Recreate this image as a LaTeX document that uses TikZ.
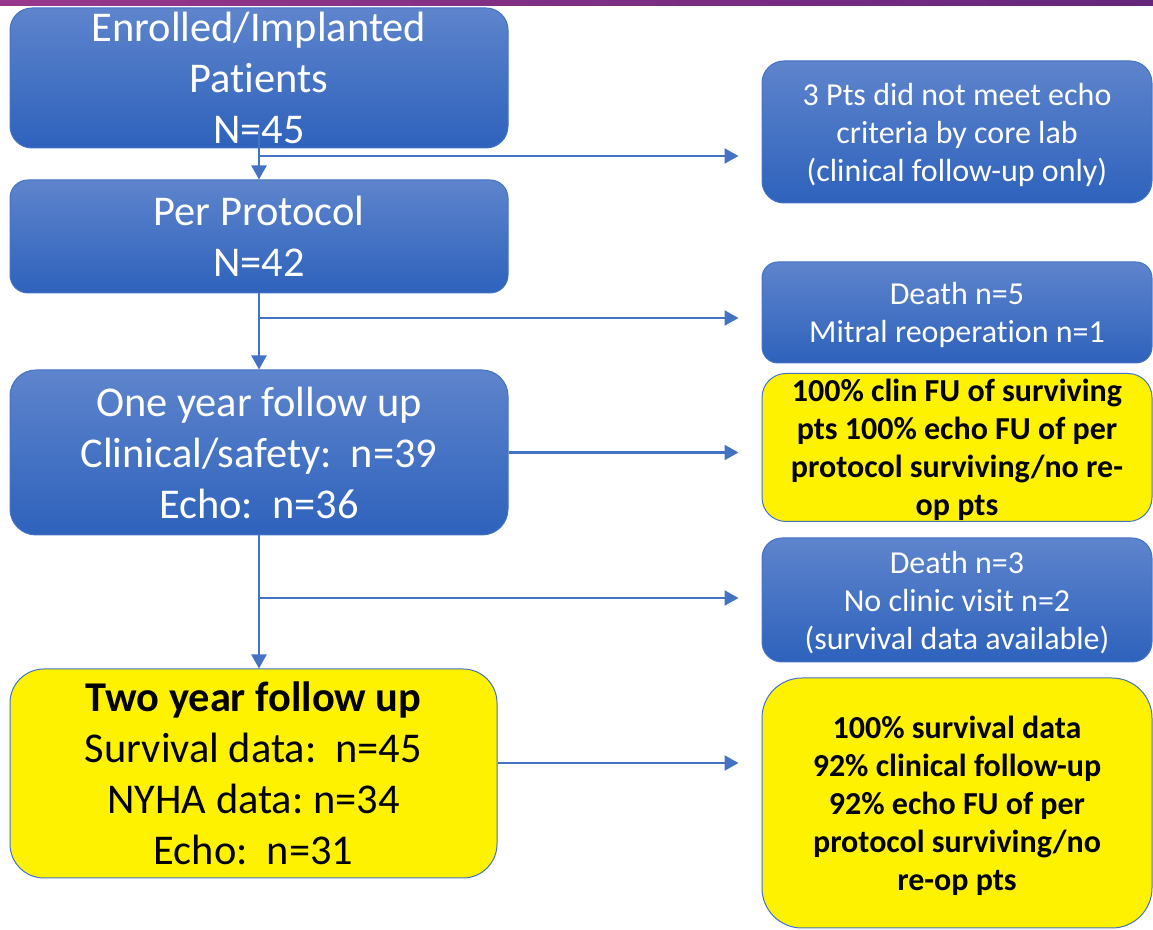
\documentclass[tikz,border=0pt]{standalone}
\usepackage{fontspec}
\setmainfont{Carlito}[Ligatures=NoCommon]
\frenchspacing
\usetikzlibrary{arrows.meta}
\definecolor{pptblue}{RGB}{68,114,196}
\definecolor{boxtop}{RGB}{94,132,204}
\definecolor{boxbot}{RGB}{46,98,188}
\definecolor{barleft}{RGB}{152,56,140}
\definecolor{barright}{RGB}{100,38,122}
\tikzset{every picture/.style={x=0.5pt, y=-0.5pt}}
\tikzset{blue box/.style={draw=pptblue, line width=0.5pt, top color=boxtop, bottom color=boxbot, text=white, align=center, inner sep=0pt}}
\tikzset{yellow box/.style={draw=pptblue, line width=0.5pt, fill=yellow, text=black, align=center, inner sep=0pt}}
\tikzset{bigtext/.style={font=\fontsize{21.2}{25.5}\selectfont}}
\tikzset{smalltext/.style={font=\fontsize{16}{19}\selectfont, text depth=0pt}}
\tikzset{boldtext/.style={font=\fontsize{16}{19}\selectfont\bfseries, text depth=0pt}}
\tikzset{link/.style={draw=pptblue, line width=1.1pt, -{Triangle[length=7pt, width=7.5pt]}}}

\begin{document}
\begin{tikzpicture}
\useasboundingbox (0,0) rectangle (1153,930);
\shade[left color=barleft, right color=barright] (0,0) rectangle (1153,6);
\node[blue box, bigtext, minimum width=249pt, minimum height=70pt, rounded corners=11pt] (1) at (259,78) {Enrolled/Implanted\\Patients\\N=45};
\node[blue box, bigtext, minimum width=249pt, minimum height=56.5pt, rounded corners=9pt] (2) at (259,236.5) {Per Protocol\\N=42};
\node[blue box, bigtext, minimum width=249pt, minimum height=82.5pt, rounded corners=13pt] (3) at (259,452.5) {One year follow up\\Clinical/safety:\ \ n=39\\Echo:\ \ n=36};
\node[yellow box, bigtext, minimum width=243.5pt, minimum height=104.5pt, rounded corners=17pt] (4) at (253.5,773.5) {\textbf{Two year follow up}\\Survival data:\ \ n=45\\NYHA data: n=34\\Echo:\ \ n=31};
\node[blue box, smalltext, minimum width=195pt, minimum height=71pt, rounded corners=11pt] (5) at (957,132) {3 Pts did not meet echo\\criteria by core lab\\(clinical follow-up only)};
\node[blue box, smalltext, minimum width=195pt, minimum height=50.5pt, rounded corners=8pt] (6) at (957,312.5) {Death n=5\\Mitral reoperation n=1};
\node[yellow box, boldtext, minimum width=195pt, minimum height=74pt, rounded corners=12pt] (7) at (957,447.5) {100\% clin FU of surviving\\pts 100\% echo FU of per\\protocol surviving/no re-\\op pts};
\node[blue box, smalltext, minimum width=195pt, minimum height=62pt, rounded corners=10pt] (8) at (957,600) {Death n=3\\No clinic visit n=2\\(survival data available)};
\node[yellow box, boldtext, minimum width=195pt, minimum height=125pt, rounded corners=20pt] (9) at (957,803) {100\% survival data\\92\% clinical follow-up\\92\% echo FU of per\\protocol surviving/no\\re-op pts};
\coordinate (b1) at (259,156);
\coordinate (b2) at (259,318);
\coordinate (b3) at (259,598);
\coordinate (d1) at ([yshift=5.25pt]4.east);
\draw[link] ([yshift=10pt]1.south) -- (2.north);
\draw[link, shorten >=11.5pt] (b1) -- (b1 -| 5.west);
\draw[link] (2.south) -- (3.north);
\draw[link, shorten >=11.5pt] (b2) -- (b2 -| 6.west);
\draw[link, shorten >=11.5pt] (3.east) -- (3.east -| 7.west);
\draw[link] (3.south) -- (3.south |- 4.north);
\draw[link, shorten >=11.5pt] (b3) -- (b3 -| 8.west);
\draw[link, shorten >=11.5pt] (d1) -- (d1 -| 9.west);
\end{tikzpicture}
\end{document}
